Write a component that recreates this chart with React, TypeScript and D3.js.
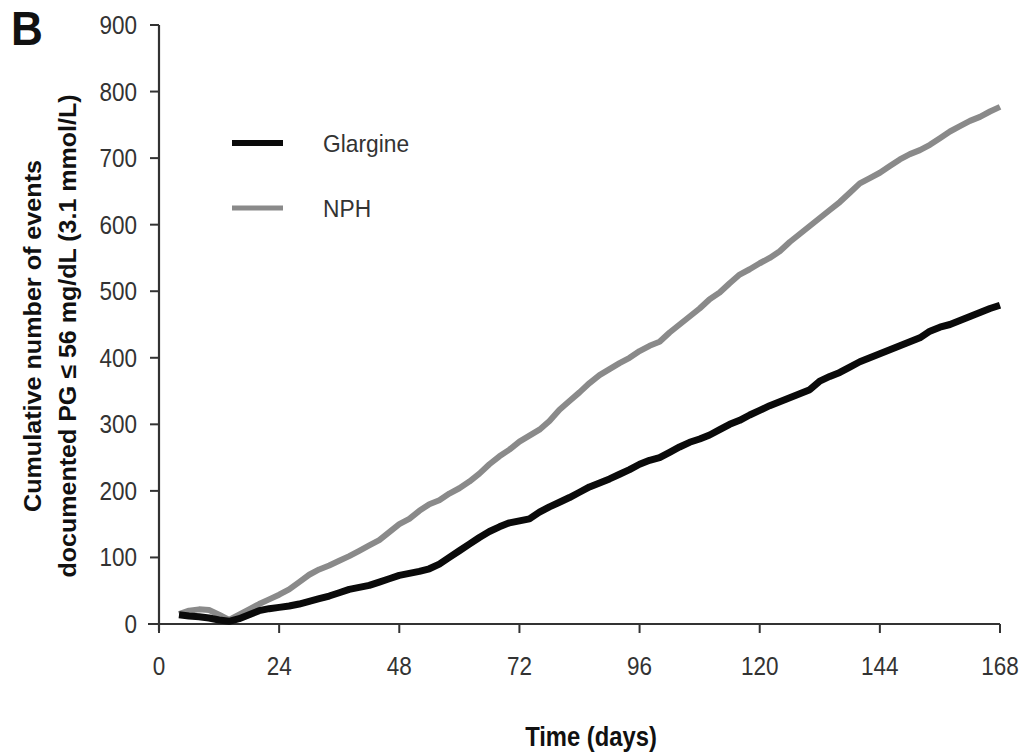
import React from "react";
import * as d3 from "d3";

const xTicks = [0, 24, 48, 72, 96, 120, 144, 168];
const yTicks = [0, 100, 200, 300, 400, 500, 600, 700, 800, 900];

const days = [4, 6, 8, 10, 12, 14, 16, 18, 20, 22, 24, 26, 28, 30, 32, 34, 36, 38, 40, 42, 44, 46, 48, 50, 52, 54, 56, 58, 60, 62, 64, 66, 68, 70, 72, 74, 76, 78, 80, 82, 84, 86, 88, 90, 92, 94, 96, 98, 100, 102, 104, 106, 108, 110, 112, 114, 116, 118, 120, 122, 124, 126, 128, 130, 132, 134, 136, 138, 140, 142, 144, 146, 148, 150, 152, 154, 156, 158, 160, 162, 164, 166, 168];

const glargine = [14, 12, 11, 9, 6, 4, 8, 14, 20, 23, 25, 27, 30, 34, 38, 42, 47, 52, 55, 58, 63, 68, 73, 76, 79, 83, 90, 100, 110, 120, 130, 139, 146, 152, 155, 158, 168, 176, 183, 190, 198, 206, 212, 218, 225, 232, 240, 246, 250, 258, 266, 273, 278, 284, 292, 300, 306, 314, 321, 328, 334, 340, 346, 352, 365, 372, 378, 386, 394, 400, 406, 412, 418, 424, 430, 440, 446, 450, 456, 462, 468, 474, 479];

const nph = [15, 20, 22, 21, 14, 6, 14, 22, 30, 37, 44, 52, 63, 74, 82, 88, 95, 102, 110, 118, 126, 138, 150, 158, 170, 180, 186, 196, 204, 214, 226, 240, 252, 262, 274, 283, 292, 305, 322, 335, 348, 362, 374, 383, 392, 400, 410, 418, 424, 438, 450, 462, 474, 488, 498, 512, 525, 533, 542, 550, 560, 574, 586, 598, 610, 622, 634, 648, 662, 670, 678, 688, 698, 706, 712, 720, 730, 740, 748, 756, 762, 770, 777];

const seriesNames = ["Glargine", "NPH"];
const seriesColors = ["#0a0a0a", "#8a8a8a"];

const W = 1019;
const H = 752;
const x0 = 159, x1 = 1000, y0 = 624, y1 = 25;
const FONT = "'Liberation Sans', Arial, sans-serif";

function NText(props: {
  x: number;
  y: number;
  size: number;
  sx?: number;
  anchor?: string;
  bold?: boolean;
  fill?: string;
  dy?: string;
  children: React.ReactNode;
}) {
  const { x, y, size, sx = 0.85, anchor = "start", bold = false, fill = "#333", dy } = props;
  return (
    <g transform={`translate(${x},${y}) scale(${sx},1)`}>
      <text
        x={0}
        y={0}
        dy={dy}
        textAnchor={anchor as any}
        fontSize={size}
        fontWeight={bold ? "bold" : "normal"}
        fontFamily={FONT}
        fill={fill}
      >
        {props.children}
      </text>
    </g>
  );
}

export default function App() {
  const x = d3.scaleLinear().domain([0, 168]).range([x0, x1]);
  const y = d3.scaleLinear().domain([0, 900]).range([y0, y1]);
  const line = d3
    .line<number>()
    .x((_, i) => x(days[i]))
    .y((v) => y(v));
  const axisColor = "#333";
  return (
    <svg
      width={W}
      height={H}
      style={{ position: "absolute", left: 0, top: 0, background: "#fff" }}
      fontFamily={FONT}
    >
      <rect x={0} y={0} width={W} height={H} fill="#fff" />
      <NText x={11} y={45} size={48} sx={0.92} bold fill="#111">
        B
      </NText>
      {/* axes */}
      <line x1={x0} x2={x0} y1={y(900)} y2={y0 + 7} stroke={axisColor} strokeWidth={2.2} />
      <line x1={x0 - 11} x2={x(168)} y1={y0} y2={y0} stroke={axisColor} strokeWidth={2.2} />
      {yTicks.map((t) => (
        <g key={"y" + t}>
          <line x1={x0 - 9} x2={x0} y1={y(t)} y2={y(t)} stroke={axisColor} strokeWidth={2} />
          <NText x={137} y={y(t)} dy="0.36em" anchor="end" size={25} sx={0.9}>
            {t}
          </NText>
        </g>
      ))}
      {xTicks.map((t) => (
        <g key={"x" + t}>
          <line x1={x(t)} x2={x(t)} y1={y0} y2={y0 + 9} stroke={axisColor} strokeWidth={2} />
          <NText x={x(t)} y={675} anchor="middle" size={25} sx={0.9}>
            {t}
          </NText>
        </g>
      ))}
      <NText x={591} y={746} anchor="middle" size={28} sx={0.85} bold fill="#111">
        Time (days)
      </NText>
      <g transform="translate(41,336) rotate(-90)">
        <text
          x={0}
          y={0}
          textAnchor="middle"
          fontSize={24}
          fontWeight="bold"
          fill="#111"
          textLength={352}
          lengthAdjust="spacingAndGlyphs"
        >
          Cumulative number of events
        </text>
        <text
          x={0}
          y={35}
          textAnchor="middle"
          fontSize={24}
          fontWeight="bold"
          fill="#111"
          textLength={483}
          lengthAdjust="spacingAndGlyphs"
        >
          documented PG ≤ 56 mg/dL (3.1 mmol/L)
        </text>
      </g>
      {/* series */}
      <path d={line(nph) || ""} fill="none" stroke={seriesColors[1]} strokeWidth={6} strokeLinejoin="round" />
      <path d={line(glargine) || ""} fill="none" stroke={seriesColors[0]} strokeWidth={7} strokeLinejoin="round" />
      {/* legend */}
      {seriesNames.map((n, i) => (
        <g key={n}>
          <line x1={232} x2={283} y1={143 + i * 65} y2={143 + i * 65} stroke={seriesColors[i]} strokeWidth={i === 0 ? 6 : 5} />
          <NText x={323} y={143 + i * 65} dy="0.36em" size={24} sx={0.95}>
            {n}
          </NText>
        </g>
      ))}
    </svg>
  );
}
